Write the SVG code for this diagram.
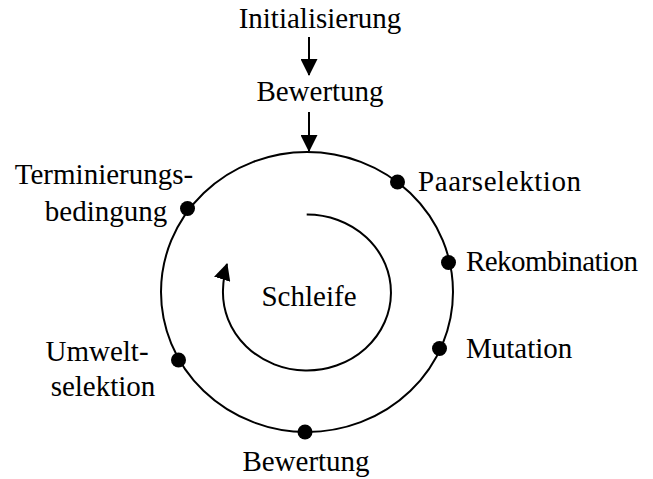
<svg xmlns="http://www.w3.org/2000/svg" width="653" height="479" viewBox="0 0 653 479">
<defs>
<style>
text{font-family:"Liberation Serif","Times New Roman",serif;font-size:29px;fill:#000}
.ln{fill:none;stroke:#000;stroke-width:2}
.dot{fill:#000}
</style>
<marker id="ah" markerWidth="17" markerHeight="17" refX="16" refY="8.5" orient="auto" markerUnits="userSpaceOnUse">
<path d="M0,0 L17,8.5 L0,17 Z" fill="#000"/>
</marker>
</defs>
<rect width="653" height="479" fill="#fff"/>
<g id="connectors">
<line class="ln" x1="309" y1="37" x2="309" y2="75" marker-end="url(#ah)"/>
<line class="ln" x1="309" y1="112" x2="309" y2="151" marker-end="url(#ah)"/>
<ellipse id="kreis" class="ln" cx="307" cy="292" rx="146" ry="140"/>
<path id="spirale" class="ln" d="M306.7,214.5 A84,78 0 1 1 223,290 Q223.5,275 227,264" marker-end="url(#ah)"/>
</g>
<g id="n-init"><text x="320" y="28" text-anchor="middle">Initialisierung</text></g>
<g id="n-bew1"><text x="320" y="101" text-anchor="middle">Bewertung</text></g>
<g id="n-paar"><circle class="dot" cx="397.5" cy="182" r="7.5"/><text x="418" y="191" textLength="163">Paarselektion</text></g>
<g id="n-rek"><circle class="dot" cx="448.5" cy="262.5" r="7.5"/><text x="466" y="271" textLength="172">Rekombination</text></g>
<g id="n-mut"><circle class="dot" cx="439.5" cy="348.5" r="7.5"/><text x="466" y="358">Mutation</text></g>
<g id="n-bew2"><circle class="dot" cx="305" cy="432" r="7.5"/><text x="306" y="471" text-anchor="middle">Bewertung</text></g>
<g id="n-umw"><circle class="dot" cx="178.5" cy="360" r="7.5"/><text x="97" y="361" text-anchor="middle">Umwelt-</text><text x="103" y="396" text-anchor="middle">selektion</text></g>
<g id="n-term"><circle class="dot" cx="187.5" cy="208.5" r="7.5"/><text x="104" y="184" text-anchor="middle">Terminierungs-</text><text x="106" y="221" text-anchor="middle">bedingung</text></g>
<g id="n-schleife"><text x="309" y="306" text-anchor="middle">Schleife</text></g>
</svg>
